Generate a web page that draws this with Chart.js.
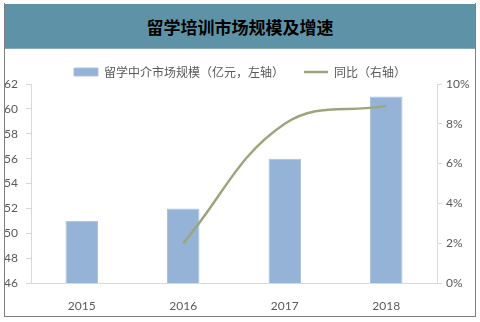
<!DOCTYPE html>
<html>
<head>
<meta charset="utf-8">
<script src="https://cdn.jsdelivr.net/npm/chart.js@4/dist/chart.umd.min.js"></script>
<style>
  body { margin: 0; background: #fff; }
  #frame {
    position: absolute; left: 4px; top: 3px; width: 470px; height: 313px;
    border: 1px solid #7f7f7f; border-top: none; background: #fff;
  }
  #title {
    position: absolute; left: 0; top: 1px; width: 470px; height: 44px;
    background: #5e93a7; color: #000;
    font: bold 17px "Noto Sans CJK SC", sans-serif;
    text-align: center; line-height: 46px; border-bottom: 1px solid #8aa9b5;
  }
  #wrap { position: absolute; left: 0; top: 45px; width: 470px; height: 267px; }
</style>
</head>
<body>
<div id="frame">
  <div id="title">留学培训市场规模及增速</div>
  <div id="wrap"><canvas id="chart"></canvas></div>
</div>
<script>
var years = ['2015', '2016', '2017', '2018'];
var marketSize = [51, 52, 56, 61];          // 亿元
var growth = [null, 0.02, 0.08, 0.089];     // 同比
var leftTicks = [46, 48, 50, 52, 54, 56, 58, 60, 62];
var rightTicks = [0, 0.02, 0.04, 0.06, 0.08, 0.10];

var tickFont = { family: 'Lato, "Noto Sans", sans-serif', size: 12 };
var axisGray = '#d9d9d9';

// keep the wide gap between legend items without the legend eating plot height
var legendTrim = {
  id: 'legendTrim',
  beforeUpdate: function(chart) {
    var lg = chart.legend;
    if (!lg || lg._trimmed) return;
    var fit = lg.fit;
    lg.fit = function() {
      fit.apply(this, arguments);
      this.height -= 4;
    };
    lg._trimmed = true;
  }
};

var ctx = document.getElementById('chart').getContext('2d');
var chart = new Chart(ctx, {
  type: 'bar',
  data: {
    labels: years,
    datasets: [{
      label: '留学中介市场规模（亿元，左轴）',
      data: marketSize,
      backgroundColor: '#95b3d7',
      borderColor: '#a9c2df',
      borderWidth: 1,
      categoryPercentage: 1,
      barPercentage: 0.32,
      pointStyle: 'rect',
      yAxisID: 'y',
      order: 2
    }, {
      type: 'line',
      label: '同比（右轴）',
      data: growth,
      borderColor: '#9ba67f',
      backgroundColor: '#9ba67f',
      borderWidth: 2.5,
      pointRadius: 0,
      tension: 0.4,
      pointStyle: 'line',
      yAxisID: 'y1',
      order: 1
    }]
  },
  plugins: [legendTrim],
  options: {
    responsive: true,
    maintainAspectRatio: false,
    animation: false,
    layout: { padding: { top: -2, right: 0, bottom: 0, left: 0 } },
    plugins: {
      title: { display: false },
      tooltip: { enabled: false },
      legend: {
        position: 'top',
        labels: {
          usePointStyle: true,
          pointStyleWidth: 24,
          boxHeight: 8,
          padding: 20,
          color: '#595959',
          font: { family: '"Noto Sans CJK SC", sans-serif', size: 12 },
          sort: function(a, b) { return a.datasetIndex - b.datasetIndex; }
        }
      }
    },
    scales: {
      x: {
        grid: { drawOnChartArea: false, drawTicks: false },
        border: { color: axisGray },
        ticks: { color: '#595959', font: tickFont, padding: 16 },
        afterFit: function(s) { s.height = 32; }
      },
      y: {
        position: 'left',
        min: 46, max: 62,
        afterBuildTicks: function(s) { s.ticks = leftTicks.map(function(v) { return { value: v }; }); },
        grid: { drawOnChartArea: false, tickLength: 5, color: axisGray },
        border: { color: axisGray },
        ticks: { color: '#595959', font: tickFont, padding: 8 },
        afterFit: function(s) { s.width = 26; }
      },
      y1: {
        position: 'right',
        min: 0, max: 0.10,
        afterBuildTicks: function(s) { s.ticks = rightTicks.map(function(v) { return { value: v }; }); },
        grid: { drawOnChartArea: false, tickLength: 5, color: axisGray },
        border: { color: axisGray },
        ticks: {
          color: '#595959', font: tickFont, padding: 4,
          callback: function(v) { return Math.round(v * 100) + '%'; }
        },
        afterFit: function(s) { s.width = 38; }
      }
    }
  }
});
</script>
</body>
</html>
